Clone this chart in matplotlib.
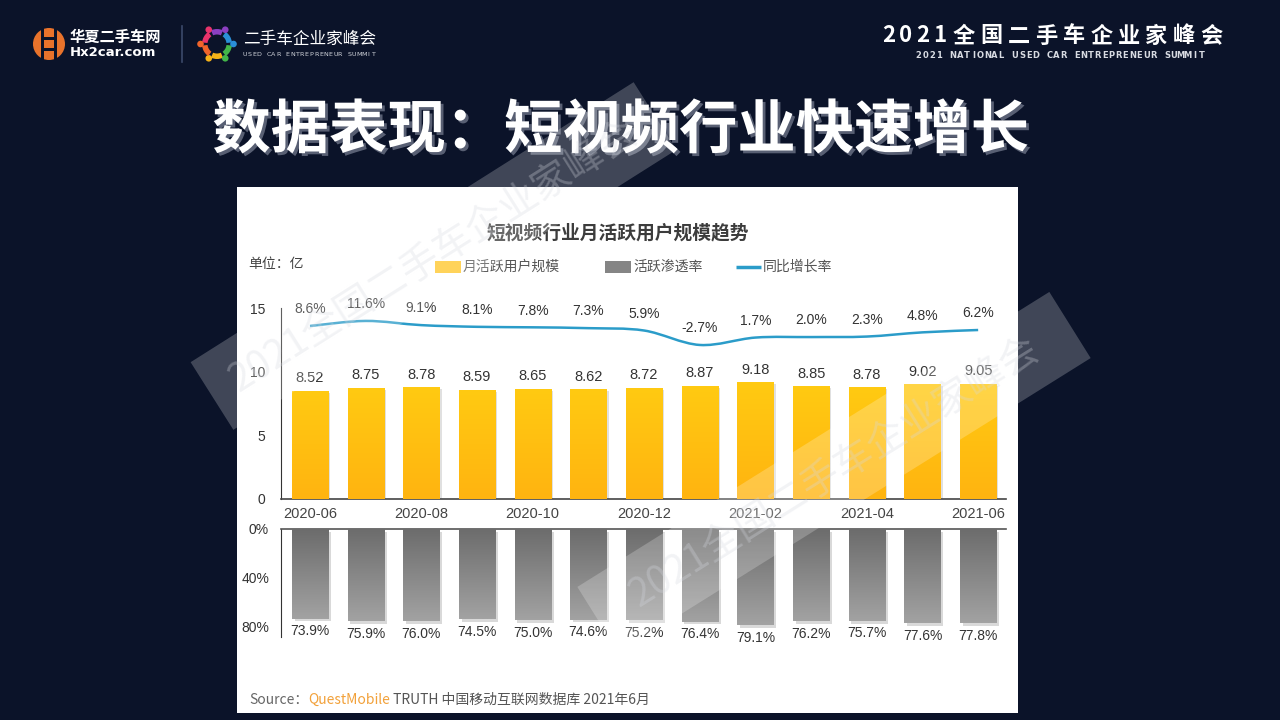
import numpy as np
import matplotlib
matplotlib.use('Agg')
import matplotlib.pyplot as plt
from matplotlib.patches import Rectangle, Circle, Wedge, Polygon, PathPatch
from matplotlib.path import Path
import matplotlib.patheffects as pe

plt.rcParams['font.family'] = ['Noto Sans CJK SC', 'DejaVu Sans']

# ---------------- data ----------------
months = ['2020-06', '2020-07', '2020-08', '2020-09', '2020-10', '2020-11', '2020-12',
          '2021-01', '2021-02', '2021-03', '2021-04', '2021-05', '2021-06']
mau = [8.52, 8.75, 8.78, 8.59, 8.65, 8.62, 8.72, 8.87, 9.18, 8.85, 8.78, 9.02, 9.05]
penetration = [73.9, 75.9, 76.0, 74.5, 75.0, 74.6, 75.2, 76.4, 79.1, 76.2, 75.7, 77.6, 77.8]
growth = [8.6, 11.6, 9.1, 8.1, 7.8, 7.3, 5.9, -2.7, 1.7, 2.0, 2.3, 4.8, 6.2]
y_ticks_top = [0, 5, 10, 15]
y_ticks_bottom = [0, 40, 80]

chart_title = '短视频行业月活跃用户规模趋势'
legend_labels = ['月活跃用户规模', '活跃渗透率', '同比增长率']
unit_label = '单位：亿'
slide_title = '数据表现：短视频行业快速增长'

W, H = 1280, 720
BG = '#0b1329'
YEL_TOP, YEL_BOT = '#ffca12', '#ffb410'
GRY_TOP, GRY_BOT = '#6c6c6c', '#a2a2a2'
LINE_C = '#2b9cc9'
NUM_FONT = ['Liberation Sans', 'DejaVu Sans']

fig = plt.figure(figsize=(12.8, 7.2), dpi=100)
fig.patch.set_facecolor(BG)


def box(x0, y0, x1, y1):
    return [x0 / W, 1 - y1 / H, (x1 - x0) / W, (y1 - y0) / H]


def hex2rgb(h):
    h = h.lstrip('#')
    return np.array([int(h[i:i + 2], 16) / 255 for i in (0, 2, 4)])


def gradient(c_top, c_bot, n=64):
    t = np.linspace(0, 1, n)[:, None]
    return (hex2rgb(c_top)[None, :] * (1 - t) + hex2rgb(c_bot)[None, :] * t)[:, None, :]


# ---------------- background layer (pixel coordinates) ----------------
bg = fig.add_axes([0, 0, 1, 1], zorder=0)
bg.set_xlim(0, W)
bg.set_ylim(H, 0)
bg.axis('off')

# white panel
bg.add_patch(Rectangle((237, 187), 781, 526, facecolor='white', edgecolor='none'))

# slide title
bg.text(621, 131, slide_title, ha='center', va='center', fontsize=42, fontweight='bold',
        color='white',
        path_effects=[pe.withSimplePatchShadow(offset=(2, -2), shadow_rgbFace='#8d93a6', alpha=0.6)])


def spaced(chars, x0, pitch, y, **kw):
    for i, ch in enumerate(chars):
        bg.text(x0 + i * pitch, y, ch, ha='center', va='center', **kw)


# top-right event title
spaced('2021', 888.5, 17, 36, fontsize=16, fontweight='bold', color='white')
spaced('全国二手车企业家峰会', 964, 27.5, 36, fontsize=16, fontweight='bold', color='white')
spaced('2021 NATIONAL USED CAR ENTREPRENEUR SUMMIT', 918.5, 6.9, 55,
       fontsize=6, fontweight='bold', color='#d8dbe2', family='DejaVu Sans')

# left logo 1 (orange H)
bg.add_patch(Circle((49, 44), 16, facecolor='#e9732b', edgecolor='none'))
for dx in (-6.5, 6.5):
    bg.add_patch(Rectangle((49 + dx - 1.4, 27), 2.8, 34, facecolor=BG, edgecolor='none'))
for dy in (-5.5, 5.5):
    bg.add_patch(Rectangle((43, 44 + dy - 1.3), 12, 2.6, facecolor=BG, edgecolor='none'))
bg.text(70, 37, '华夏二手车网', ha='left', va='center', fontsize=11, fontweight='bold', color='white')
bg.text(70, 52.5, 'Hx2car.com', ha='left', va='center', fontsize=9.5, fontweight='bold',
        color='white', family='DejaVu Sans')
bg.plot([182, 182], [26, 62], color='#3c4a6a', lw=1.2)

# left logo 2 (colourful ring)
ring_cols = ['#f6b318', '#43b649', '#2a8fd8', '#8b3fc1', '#e8336b', '#f0642a']
for k, c in enumerate(ring_cols):
    a = 90 - 60 * k
    bg.add_patch(Wedge((217, 44), 15, a - 24, a + 24, width=5.5, facecolor=c, edgecolor='none'))
    r = np.deg2rad(a + 30)
    bg.add_patch(Circle((217 + 16.5 * np.cos(r), 44 + 16.5 * np.sin(r)), 3.3, facecolor=c, edgecolor='none'))
bg.text(243, 39, '二手车企业家峰会', ha='left', va='center', fontsize=12, color='white')
spaced('USED CAR ENTREPRENEUR SUMMIT', 245, 4.75, 55, fontsize=4.6, color='#d0d3da',
       family='DejaVu Sans')

# chart title, unit, legend
bg.text(618, 233, chart_title, ha='center', va='center', fontsize=13.5, fontweight='bold', color='#3c3c3c')
bg.text(248, 264, unit_label, ha='left', va='center', fontsize=10, color='#444444')
bg.add_patch(Rectangle((435, 261), 26, 12, facecolor='#ffc72c', edgecolor='none'))
bg.text(463, 267, legend_labels[0], ha='left', va='center', fontsize=10, color='#555555')
bg.add_patch(Rectangle((605, 261), 26, 12, facecolor='#858585', edgecolor='none'))
bg.text(633, 267, legend_labels[1], ha='left', va='center', fontsize=10, color='#555555')
bg.plot([736, 761], [267, 267], color=LINE_C, lw=2.5, solid_capstyle='butt')
bg.text(763, 267, legend_labels[2], ha='left', va='center', fontsize=10, color='#555555')

# ---------------- top chart: MAU bars + growth line ----------------
x = np.arange(len(months))
ax = fig.add_axes(box(281, 308, 1006, 499), zorder=2)
ax.patch.set_alpha(0)
bars = ax.bar(x, mau, width=0.65, color=YEL_TOP, zorder=2)
grad_y = gradient(YEL_TOP, YEL_BOT)
for rect in bars:
    rect.set_path_effects([pe.SimplePatchShadow(offset=(1.5, -1.5), shadow_rgbFace='k', alpha=0.12),
                           pe.Normal()])
    x0, w, h = rect.get_x(), rect.get_width(), rect.get_height()
    im = ax.imshow(grad_y, extent=(x0, x0 + w, 0, h), aspect='auto', zorder=3, interpolation='bilinear')
    im.set_clip_path(rect)
for xi, v in zip(x, mau):
    ax.annotate(f'{v:.2f}', (xi, v), xytext=(0, 4), textcoords='offset points',
                ha='center', va='bottom', fontsize=10.5, color='#333333', family=NUM_FONT, zorder=5)
ax.set_xlim(-0.52, 12.5)
ax.set_ylim(0, 15)
for s in ('top', 'right'):
    ax.spines[s].set_visible(False)
ax.spines['left'].set_color('#333333')
ax.spines['bottom'].set_color('#444444')
ax.spines['bottom'].set_linewidth(1.2)
ax.set_yticks(y_ticks_top)
ax.set_yticklabels([str(t) for t in y_ticks_top], family=NUM_FONT)
ax.set_xticks(x[::2])
ax.set_xticklabels(months[::2], family=NUM_FONT)
ax.tick_params(axis='y', length=0, pad=11.5, labelsize=10, labelcolor='#333333')
ax.tick_params(axis='x', length=0, pad=6, labelsize=10.5, labelcolor='#444444')

ax2 = ax.twinx()
ax2.set_ylim(-94.4, 19.3)
ax2.axis('off')
pts = np.column_stack([x, growth]).astype(float)
verts = [pts[0]]
codes = [Path.MOVETO]
n = len(pts)
for i in range(n - 1):
    p0 = pts[i - 1] if i > 0 else pts[i]
    p1, p2 = pts[i], pts[i + 1]
    p3 = pts[i + 2] if i + 2 < n else pts[i + 1]
    verts += [p1 + (p2 - p0) / 6, p2 - (p3 - p1) / 6, p2]
    codes += [Path.CURVE4] * 3
ax2.add_patch(PathPatch(Path(verts, codes), facecolor='none', edgecolor=LINE_C, lw=1.8, zorder=4))
for xi, g in zip(x, growth):
    ax2.annotate(f'{g:.1f}%', (xi, g), xytext=(0, 7), textcoords='offset points',
                 ha='center', va='bottom', fontsize=10, color='#333333', family=NUM_FONT)

# ---------------- bottom chart: penetration bars (downwards) ----------------
axb = fig.add_axes(box(281, 529, 1006, 637), zorder=2)
axb.patch.set_alpha(0)
bars_b = axb.bar(x, penetration, width=0.65, color=GRY_TOP, zorder=2)
grad_g = gradient(GRY_TOP, GRY_BOT)
for rect in bars_b:
    rect.set_path_effects([pe.SimplePatchShadow(offset=(2, -2), shadow_rgbFace='k', alpha=0.15),
                           pe.Normal()])
    x0, w, h = rect.get_x(), rect.get_width(), rect.get_height()
    im = axb.imshow(grad_g, extent=(x0, x0 + w, h, 0), aspect='auto', zorder=3, interpolation='bilinear')
    im.set_clip_path(rect)
for xi, p in zip(x, penetration):
    axb.annotate(f'{p:.1f}%', (xi, p), xytext=(0, -4), textcoords='offset points',
                 ha='center', va='top', fontsize=10, color='#333333', family=NUM_FONT)
axb.set_xlim(-0.52, 12.5)
axb.set_ylim(89, 0)
for s in ('bottom', 'right'):
    axb.spines[s].set_visible(False)
axb.spines['top'].set_color('#555555')
axb.spines['top'].set_linewidth(1.2)
axb.spines['left'].set_color('#333333')
axb.set_xticks([])
axb.set_yticks(y_ticks_bottom)
axb.set_yticklabels([f'{t}%' for t in y_ticks_bottom], family=NUM_FONT)
axb.tick_params(axis='y', length=0, pad=8.6, labelsize=10, labelcolor='#333333')

# ---------------- source line ----------------
fig.canvas.draw()
renderer = fig.canvas.get_renderer()
src_parts = [('Source：', '#666666'), ('QuestMobile', '#f2a13a'),
             (' TRUTH 中国移动互联网数据库 2021年6月', '#555555')]
cx = 249
for txt, col in src_parts:
    t = bg.text(cx, 700, txt, ha='left', va='center', fontsize=10, color=col)
    bb = t.get_window_extent(renderer)
    cx += bb.width

# ---------------- watermark bands ----------------
fg = fig.add_axes([0, 0, 1, 1], zorder=6)
fg.set_xlim(0, W)
fg.set_ylim(H, 0)
fg.axis('off')
fg.patch.set_alpha(0)


def band(A, B, width, text):
    A, B = np.array(A, float), np.array(B, float)
    d = (B - A) / np.linalg.norm(B - A)
    nrm = np.array([-d[1], d[0]])
    corners = [A + nrm * width / 2, B + nrm * width / 2, B - nrm * width / 2, A - nrm * width / 2]
    fg.add_patch(Polygon(corners, closed=True, facecolor='white', edgecolor='none', alpha=0.22))
    mid = (A + B) / 2
    ang = np.degrees(np.arctan2(-(B[1] - A[1]), B[0] - A[0]))
    fg.text(mid[0], mid[1], text, rotation=ang, rotation_mode='anchor', ha='center', va='center',
            fontsize=28, color='#d5d8e0', alpha=0.3)


band((212, 396), (655, 116), 80, '2021全国二手车企业家峰会')
band((598, 620), (1070, 325), 78, '2021全国二手车企业家峰会')

fig.savefig('out.png', dpi=100, facecolor=BG)
